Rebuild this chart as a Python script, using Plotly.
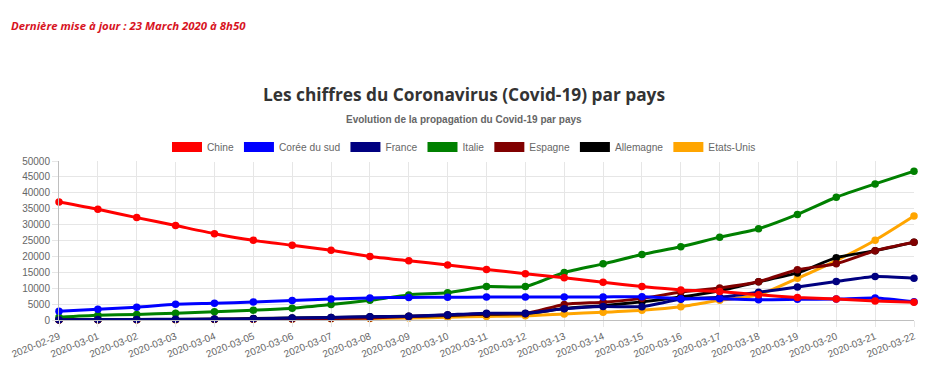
import plotly.graph_objects as go

dates = ["2020-02-29", "2020-03-01", "2020-03-02", "2020-03-03", "2020-03-04", "2020-03-05",
         "2020-03-06", "2020-03-07", "2020-03-08", "2020-03-09", "2020-03-10", "2020-03-11",
         "2020-03-12", "2020-03-13", "2020-03-14", "2020-03-15", "2020-03-16", "2020-03-17",
         "2020-03-18", "2020-03-19", "2020-03-20", "2020-03-21", "2020-03-22"]

chine = [37100, 34800, 32200, 29700, 27150, 25050, 23500, 21900, 20000, 18650, 17300, 15900,
         14550, 13300, 11850, 10500, 9450, 9000, 7950, 7100, 6600, 6000, 5600]
coree = [2750, 3350, 4000, 4950, 5250, 5650, 6100, 6600, 6950, 7100, 7150, 7200,
         7250, 7250, 7250, 7300, 6700, 6700, 6400, 6500, 6600, 6900, 5700]
france = [100, 130, 190, 210, 280, 420, 600, 820, 1000, 1150, 1640, 2150,
          2150, 3500, 4250, 4200, 6500, 7150, 8700, 10400, 12100, 13700, 13150]
italie = [900, 1500, 1750, 2150, 2600, 3100, 3700, 4850, 6200, 7900, 8600, 10500,
          10500, 14950, 17650, 20600, 23050, 26050, 28700, 33200, 38600, 42800, 46800]
espagne = [30, 80, 110, 150, 200, 240, 350, 450, 620, 1100, 1550, 2000,
           2050, 4900, 5600, 6800, 8800, 10100, 12050, 15800, 17700, 21800, 24450]
allemagne = [50, 100, 140, 180, 250, 450, 640, 780, 1000, 1150, 1450, 1800,
             2000, 3600, 4500, 5700, 7200, 9200, 12000, 14800, 19600, 21800, 24450]
etats_unis = [60, 70, 90, 110, 140, 200, 300, 400, 500, 600, 900, 1100,
              1300, 1900, 2450, 3100, 4200, 6200, 7900, 13100, 18700, 25100, 32700]

series_names = ["Chine", "Corée du sud", "France", "Italie", "Espagne", "Allemagne", "Etats-Unis"]
series_values = [chine, coree, france, italie, espagne, allemagne, etats_unis]
series_colors = ["#ff0000", "#0000ff", "#000080", "#008000", "#800000", "#000000", "#ffa500"]

y_ticks = list(range(0, 50001, 5000))

fig = go.Figure()

# Data traces: drawn in reverse so the first series sits on top (as in the original)
for name, vals, col in reversed(list(zip(series_names, series_values, series_colors))):
    fig.add_trace(go.Scatter(
        x=dates, y=vals, name=name, legendgroup=name, showlegend=False,
        mode="lines+markers",
        line=dict(color=col, width=3, shape="spline", smoothing=0.6),
        marker=dict(color=col, size=7.5),
        cliponaxis=False,
    ))

# Legend entries (wide colour boxes)
for name, col in zip(series_names, series_colors):
    fig.add_trace(go.Scatter(
        x=[None], y=[None], name=name, legendgroup=name, showlegend=True,
        mode="lines", line=dict(color=col, width=10),
    ))

fig.update_layout(
    width=928, height=382,
    margin=dict(l=59, r=14, t=161, b=62, autoexpand=False),
    paper_bgcolor="white", plot_bgcolor="white",
    font=dict(family="Liberation Sans, Arial, sans-serif", size=10, color="#666666"),
    title=dict(
        text="Les chiffres du Coronavirus (Covid-19) par pays",
        font=dict(family="Open Sans, sans-serif", size=17.3, color="#333333", weight=700),
        x=0.5, xref="container", xanchor="center",
        y=1 - 95 / 382, yref="container", yanchor="middle",
    ),
    legend=dict(
        orientation="h", xref="container", yref="container",
        x=0.5, xanchor="center", y=1 - 147 / 382, yanchor="middle",
        font=dict(family="Liberation Sans, Arial, sans-serif", size=10.2, color="#666666"),
        itemclick=False, itemdoubleclick=False,
    ),
    xaxis=dict(
        type="category", range=[0, len(dates) - 1], automargin=False,
        showgrid=True, gridcolor="#e6e6e6", gridwidth=1,
        ticks="outside", ticklen=6, tickcolor="#e6e6e6",
        tickangle=-22, tickfont=dict(size=10, color="#666666"),
        showline=True, linecolor="#bfbfbf", linewidth=1,
        zeroline=False,
    ),
    yaxis=dict(
        range=[0, 50000], tickvals=y_ticks, tickformat="d", automargin=False,
        showgrid=True, gridcolor="#e6e6e6", gridwidth=1,
        ticks="outside", ticklen=6, tickcolor="#e6e6e6",
        tickfont=dict(size=10, color="#666666"),
        showline=True, linecolor="#bfbfbf", linewidth=1,
        zeroline=False,
    ),
    annotations=[
        dict(
            text="<b><i>Dernière mise à jour : 23 March 2020 à 8h50</i></b>",
            xref="paper", yref="paper", x=(9 - 59) / 855, y=(320 - 25) / 159,
            xanchor="left", yanchor="middle", showarrow=False,
            font=dict(family="Open Sans, sans-serif", size=11.4, color="#d7141f"),
        ),
        dict(
            text="<b>Evolution de la propagation du Covid-19 par pays</b>",
            xref="paper", yref="paper", x=(464 - 59) / 855, y=(320 - 119) / 159,
            xanchor="center", yanchor="middle", showarrow=False,
            font=dict(family="Liberation Sans, Arial, sans-serif", size=10, color="#666666"),
        ),
    ],
)

fig.write_html("out.html", config={"displayModeBar": False},
               post_script="document.body.style.margin='0';")
